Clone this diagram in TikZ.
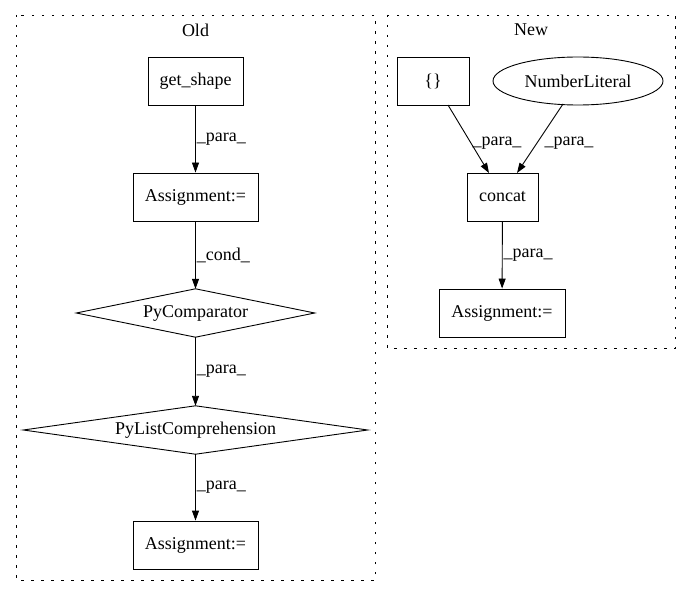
\documentclass[tikz,border=0pt]{standalone}
\usepackage{fontspec}
\setmainfont{Liberation Serif}
\usetikzlibrary{shapes.geometric,arrows.meta}
\begin{document}
\begin{tikzpicture}[x=1pt,y=-1pt,
  font=\fontsize{18}{21}\selectfont,
  cluster/.style={draw=black, line width=0.9pt, dash pattern=on 2.5pt off 7.5pt},
  boxnode/.style={draw, line width=0.9pt, rectangle, inner sep=0pt, minimum height=48pt},
  diamtext/.style={rectangle, inner sep=0pt, minimum height=48pt},
  diamline/.style={draw, line width=0.9pt, line join=miter},
  ellnode/.style={draw, line width=0.9pt, ellipse, inner sep=0pt, minimum height=48pt},
  edge/.style={draw, line width=0.9pt, -{Triangle[length=10pt,width=7pt]}},
  lab/.style={inner sep=1pt}
]
\useasboundingbox (0,0) rectangle (691,596);
% clusters
\draw[cluster] (16,15) rectangle (375,580);
\draw[cluster] (387,15) rectangle (675,348);
\node (oldlab) at (195.5,30) {Old};
\node (newlab) at (531,30) {New};
% Old nodes
\node[boxnode, minimum width=95pt] (gs) at (195.5,81) {get\_shape};
\node[boxnode, minimum width=125pt] (a1) at (195.5,197) {Assignment:=};
\node[diamtext, minimum width=238pt] (pc) at (195.5,313) {PyComparator};
\draw[diamline] (pc.north) -- (pc.east) -- (pc.south) -- (pc.west) -- cycle;
\node[diamtext, minimum width=344pt] (plc) at (195.5,430) {PyListComprehension};
\draw[diamline] (plc.north) -- (plc.east) -- (plc.south) -- (plc.west) -- cycle;
\node[boxnode, minimum width=125pt] (a2) at (195.5,545) {Assignment:=};
% New nodes
\node[boxnode, minimum width=72pt] (br) at (433,81) {\{\}};
\node[ellnode, minimum width=170pt] (nl) at (578,81) {NumberLiteral};
\node[boxnode, minimum width=71pt] (cc) at (502.5,197) {concat};
\node[boxnode, minimum width=126pt] (a3) at (502,313) {Assignment:=};
% Old edges
\draw[edge] (gs) -- node[lab, anchor=west, pos=0.5] {\_para\_} (a1);
\draw[edge] (a1) -- node[lab, anchor=west, pos=0.5] {\_cond\_} (pc);
\draw[edge] (pc) -- node[lab, anchor=west, pos=0.5] {\_para\_} (plc);
\draw[edge] (plc) -- node[lab, anchor=west, pos=0.5] {\_para\_} (a2);
% New edges
\coordinate (brs) at (448,105);
\coordinate (cct1) at (489,173);
\coordinate (nls) at (563,104);
\coordinate (cct2) at (517,173);
\draw[edge] (brs) -- (cct1);
\node[lab] (l5) at (497,143) {\_para\_};
\draw[edge] (nls) -- (cct2);
\node[lab] (l6) at (569,143) {\_para\_};
\draw[edge] (cc) -- node[lab, anchor=west, pos=0.5] {\_para\_} (a3);
\end{tikzpicture}
\end{document}
